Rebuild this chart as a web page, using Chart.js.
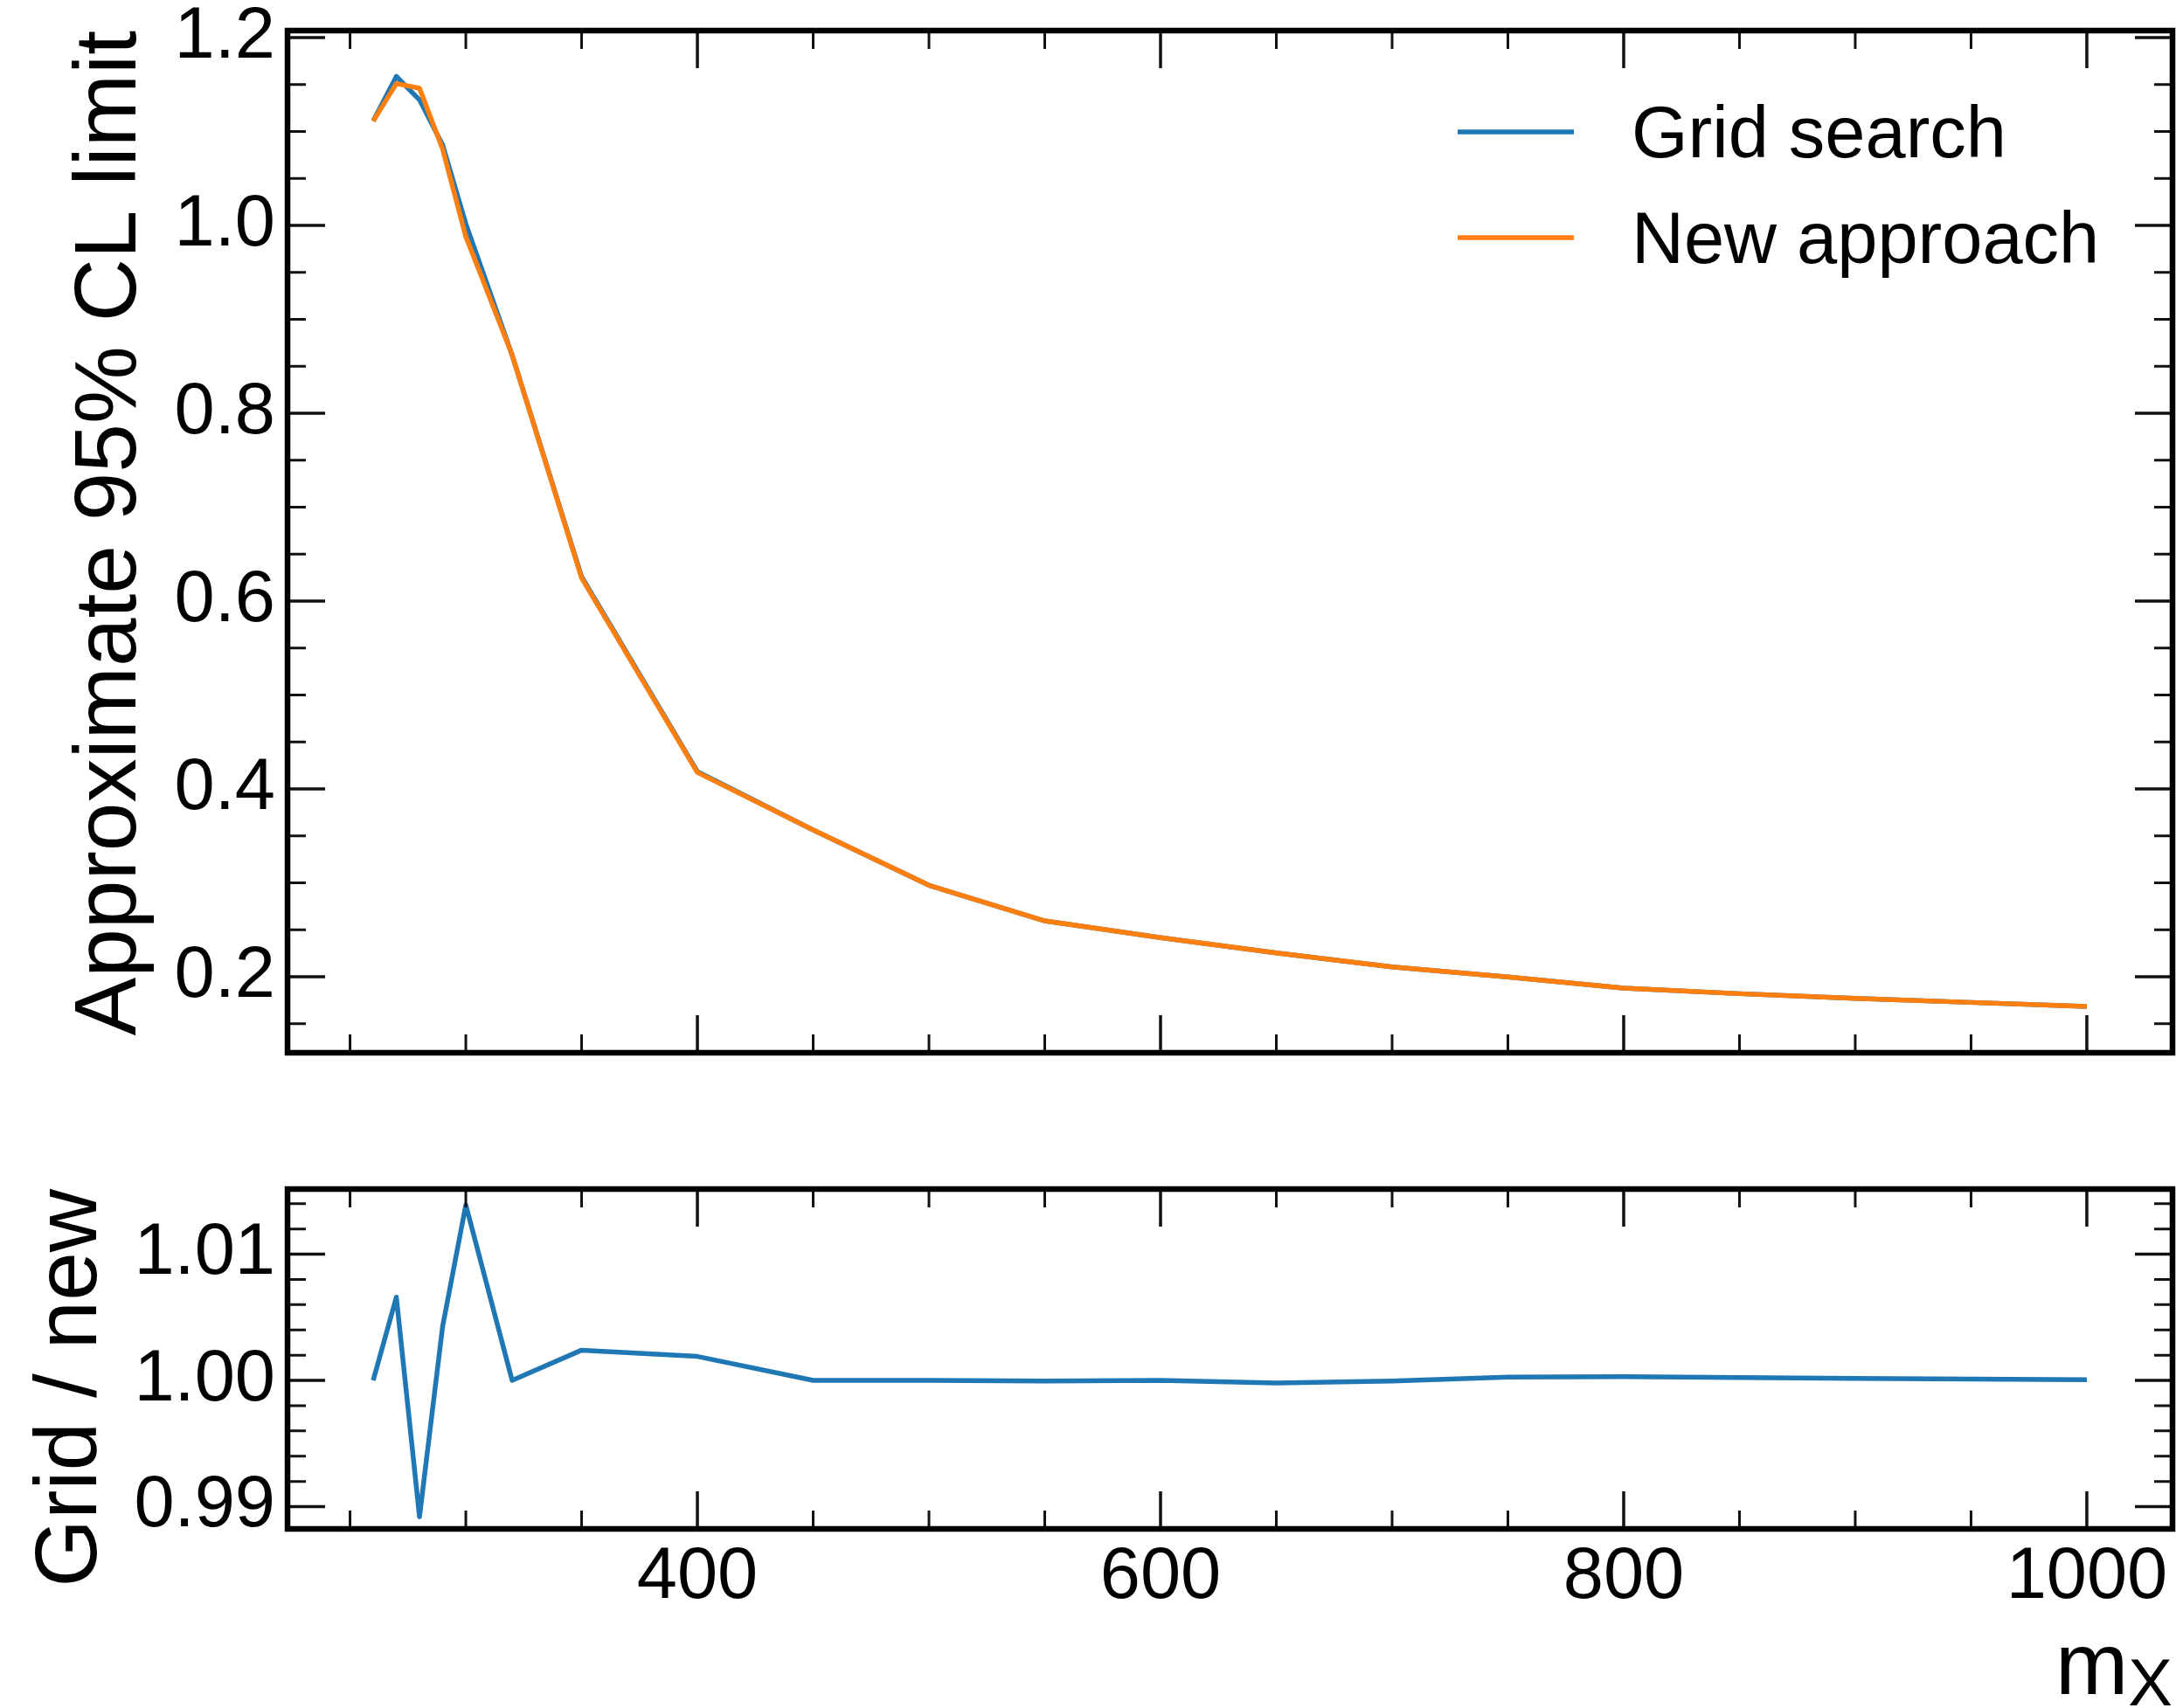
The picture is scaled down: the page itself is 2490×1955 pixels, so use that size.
<!DOCTYPE html>
<html>
<head>
<meta charset="utf-8">
<script src="https://cdn.jsdelivr.net/npm/chart.js@4.4.1/dist/chart.umd.min.js"></script>
<style>
  html, body { margin: 0; padding: 0; background: #fff; }
  #wrap { position: relative; width: 2490px; height: 1955px; }
  canvas { position: absolute; left: 0; }
  #mainChart { top: 0; }
  #ratioChart { top: 1300px; }
</style>
</head>
<body>
<div id="wrap">
  <canvas id="mainChart" width="2490" height="1300"></canvas>
  <canvas id="ratioChart" width="2490" height="655"></canvas>
</div>
<script>
// mass points (m_X) and the two limit curves
const massPoints = [260, 270, 280, 290, 300, 320, 350, 400, 450, 500, 550, 600, 650, 700, 750, 800, 850, 900, 950, 1000];
const gridSearchLimit = [1.111, 1.1586, 1.1336, 1.0856, 1.0017, 0.862, 0.626, 0.4184, 0.3563, 0.2974, 0.2595, 0.2416, 0.2254, 0.2105, 0.1998, 0.1880, 0.1820, 0.1770, 0.1727, 0.1684];
const newApproachLimit = [1.111, 1.151, 1.146, 1.081, 0.988, 0.862, 0.6245, 0.4176, 0.3563, 0.2974, 0.2595, 0.2416, 0.2254, 0.2105, 0.1997, 0.1879, 0.1820, 0.1770, 0.1727, 0.1684];
const gridOverNew = [1.0000, 1.0066, 0.9892, 1.0043, 1.0139, 1.0000, 1.0024, 1.0019, 1.0000, 1.0000, 0.99995, 1.0000, 0.9998, 0.99995, 1.00027, 1.0003, 1.00023, 1.00016, 1.0001, 1.00005];

// tick labels
const xTicks = [400, 600, 800, 1000];
const mainYTicks = [0.2, 0.4, 0.6, 0.8, 1.0, 1.2];
const ratioYTicks = [0.99, 1.00, 1.01];

const xRange = [223, 1037];
const mainYRange = [0.1191, 1.2074];
const ratioYRange = [0.98824, 1.01516];

const blue = "#1f77b4";
const orange = "#ff7f0e";
const fontFamily = '"Liberation Sans", Arial, Helvetica, sans-serif';

Chart.defaults.font.family = fontFamily;
Chart.defaults.color = "#000";

const toPoints = (ys) => massPoints.map((m, i) => ({ x: m, y: ys[i] }));

// box frame with inward major/minor ticks on all four sides (mplhep look)
const frameTicks = {
    id: "frameTicks",
    afterDatasetsDraw(chart, args, opts) {
        const { ctx, chartArea: a, scales } = chart;
        const minorOf = (range, step, majors) => {
            const out = [];
            for (let k = Math.ceil(range[0] / step - 1e-9); k <= Math.floor(range[1] / step + 1e-9); k++) {
                const v = +(k * step).toFixed(6);
                if (!majors.some((m) => Math.abs(m - v) < 1e-9)) out.push(v);
            }
            return out;
        };
        const tick = (scale, v, len, w) => {
            ctx.lineWidth = w;
            ctx.beginPath();
            if (scale.isHorizontal()) {
                const px = scale.getPixelForValue(v);
                ctx.moveTo(px, a.bottom); ctx.lineTo(px, a.bottom - len);
                ctx.moveTo(px, a.top); ctx.lineTo(px, a.top + len);
            } else {
                const py = scale.getPixelForValue(v);
                ctx.moveTo(a.left, py); ctx.lineTo(a.left + len, py);
                ctx.moveTo(a.right, py); ctx.lineTo(a.right - len, py);
            }
            ctx.stroke();
        };
        ctx.save();
        ctx.strokeStyle = "#111";
        opts.xMajor.forEach((v) => tick(scales.x, v, 43, 3.5));
        minorOf(opts.xRange, opts.xMinor, opts.xMajor).forEach((v) => tick(scales.x, v, 21, 3));
        opts.yMajor.forEach((v) => tick(scales.y, v, 43, 3.5));
        minorOf(opts.yRange, opts.yMinor, opts.yMajor).forEach((v) => tick(scales.y, v, 21, 3));
        ctx.strokeStyle = "#000";
        ctx.lineWidth = 6.5;
        ctx.strokeRect(a.left, a.top, a.width, a.height);
        ctx.restore();
    },
};

const cornerLegend = {
    id: "cornerLegend",
    afterDraw(chart, args, opts) {
        const { ctx } = chart;
        ctx.save();
        ctx.font = `${opts.fontSize}px ${fontFamily}`;
        ctx.textAlign = "left";
        ctx.textBaseline = "alphabetic";
        chart.data.datasets.forEach((ds, i) => {
            const yLine = opts.top + i * opts.rowGap;
            ctx.strokeStyle = ds.borderColor;
            ctx.lineWidth = ds.borderWidth;
            ctx.beginPath();
            ctx.moveTo(opts.x, yLine);
            ctx.lineTo(opts.x + opts.handle, yLine);
            ctx.stroke();
            ctx.fillStyle = "#000";
            ctx.fillText(ds.label, opts.x + opts.handle + opts.gap, yLine + opts.textDrop);
        });
        ctx.restore();
    },
};

// y title of the ratio panel (too long for the panel, so Chart.js would squeeze it) and m_X
const ratioLabels = {
    id: "ratioLabels",
    afterDraw(chart, args, opts) {
        const { ctx, chartArea: a } = chart;
        ctx.save();
        ctx.fillStyle = "#000";
        ctx.font = `100px ${fontFamily}`;
        ctx.translate(opts.yTitleX, a.top);
        ctx.rotate(-Math.PI / 2);
        ctx.textAlign = "right";
        ctx.textBaseline = "middle";
        ctx.fillText(opts.yTitle, 0, 0);
        ctx.setTransform(1, 0, 0, 1, 0, 0);

        ctx.textAlign = "left";
        ctx.textBaseline = "alphabetic";
        ctx.font = `76px ${fontFamily}`;
        const wSub = ctx.measureText("X").width;
        ctx.fillText("X", a.right - wSub, a.bottom + 202);
        ctx.font = `100px ${fontFamily}`;
        const wM = ctx.measureText("m").width;
        ctx.fillText("m", a.right - wSub - wM, a.bottom + 189);
        ctx.restore();
    },
};

const yAxisWidth = 329;
// fixed axis width, and no extra room kept for half tick labels at the ends
const fitLeftAxis = (s) => {
    s.width = yAxisWidth;
    s.paddingTop = 0;
    s.paddingBottom = 0;
};

new Chart(document.getElementById("mainChart"), {
    type: "line",
    data: {
        datasets: [
            { label: "Grid search", data: toPoints(gridSearchLimit), borderColor: blue, borderWidth: 5.5, order: 2 },
            { label: "New approach", data: toPoints(newApproachLimit), borderColor: orange, borderWidth: 5.5, order: 1 },
        ],
    },
    options: {
        responsive: false,
        animation: false,
        devicePixelRatio: 1,
        layout: { padding: { top: 35, right: 4, bottom: 95, left: 0 } },
        elements: {
            point: { radius: 0 },
            line: { tension: 0, borderJoinStyle: "round", fill: false },
        },
        scales: {
            x: { type: "linear", min: xRange[0], max: xRange[1], display: false },
            y: {
                type: "linear",
                min: mainYRange[0],
                max: mainYRange[1],
                afterBuildTicks: (s) => { s.ticks = mainYTicks.map((v) => ({ value: v })); },
                afterFit: fitLeftAxis,
                grid: { display: false, drawTicks: false },
                border: { display: false },
                ticks: {
                    font: { size: 83 },
                    color: "#000",
                    padding: 14,
                    callback: (v) => v.toFixed(1),
                },
                title: {
                    display: true,
                    text: "Approximate 95% CL limit",
                    align: "end",
                    color: "#000",
                    font: { size: 100 },
                    padding: { top: 67, bottom: 0 },
                },
            },
        },
        plugins: {
            legend: { display: false },
            tooltip: { enabled: false },
            frameTicks: {
                xMajor: xTicks, xMinor: 50, xRange: xRange,
                yMajor: mainYTicks, yMinor: 0.05, yRange: mainYRange,
            },
            cornerLegend: { x: 1668, top: 151, handle: 133, gap: 66, rowGap: 121, textDrop: 29, fontSize: 83 },
        },
    },
    plugins: [frameTicks, cornerLegend],
});

new Chart(document.getElementById("ratioChart"), {
    type: "line",
    data: {
        datasets: [
            { label: "Grid / new", data: toPoints(gridOverNew), borderColor: blue, borderWidth: 5.5 },
        ],
    },
    options: {
        responsive: false,
        animation: false,
        devicePixelRatio: 1,
        layout: { padding: { top: 61, right: 4, bottom: 0, left: 0 } },
        elements: {
            point: { radius: 0 },
            line: { tension: 0, borderJoinStyle: "round", fill: false },
        },
        scales: {
            x: {
                type: "linear",
                min: xRange[0],
                max: xRange[1],
                afterBuildTicks: (s) => { s.ticks = xTicks.map((v) => ({ value: v })); },
                afterFit: (s) => { s.height = 205; s.paddingLeft = 0; s.paddingRight = 0; },
                grid: { display: false, drawTicks: false },
                border: { display: false },
                ticks: {
                    font: { size: 83 },
                    color: "#000",
                    padding: 6,
                    maxRotation: 0,
                    callback: (v) => String(v),
                },
            },
            y: {
                type: "linear",
                min: ratioYRange[0],
                max: ratioYRange[1],
                afterBuildTicks: (s) => { s.ticks = ratioYTicks.map((v) => ({ value: v })); },
                afterFit: fitLeftAxis,
                grid: { display: false, drawTicks: false },
                border: { display: false },
                ticks: {
                    font: { size: 83 },
                    color: "#000",
                    padding: 14,
                    callback: (v) => v.toFixed(2),
                },
            },
        },
        plugins: {
            legend: { display: false },
            tooltip: { enabled: false },
            frameTicks: {
                xMajor: xTicks, xMinor: 50, xRange: xRange,
                yMajor: ratioYTicks, yMinor: 0.002, yRange: ratioYRange,
            },
            ratioLabels: { yTitle: "Grid / new", yTitleX: 82 },
        },
    },
    plugins: [frameTicks, ratioLabels],
});
</script>
</body>
</html>
